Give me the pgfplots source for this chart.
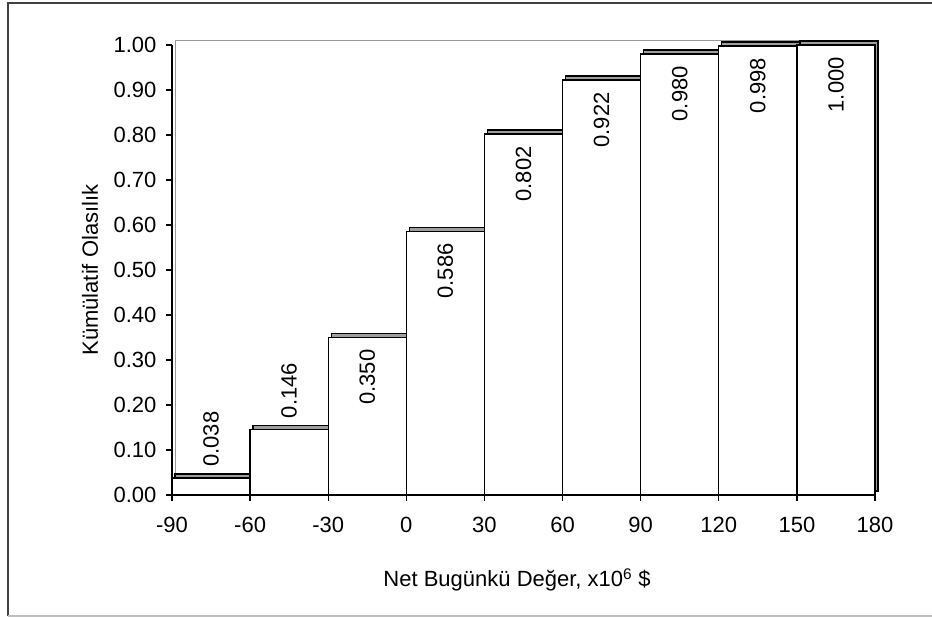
\documentclass[border=0pt]{standalone}
\usepackage{fontspec}
\setmainfont{Liberation Sans}
\usepackage{pgfplots}
\pgfplotsset{compat=1.18}
\definecolor{shade}{gray}{0.62}
\newcommand{\lblfont}{\fontsize{22bp}{26bp}\selectfont}
\begin{document}
\lblfont
\begin{tikzpicture}
\useasboundingbox (0,0) rectangle (932bp,617bp);
\fill[white] (0,0) rectangle (932bp,617bp);
\draw[line width=2.5bp, black!75] (8bp,1bp) -- (8bp,614bp) -- (932bp,614bp);
\draw[line width=1.5bp, black!25] (8bp,1bp) -- (932bp,1bp);
\begin{axis}[
  at={(172bp,122bp)}, anchor=south west,
  scale only axis, width=703bp, height=450bp,
  xmin=-90, xmax=180, ymin=0, ymax=1,
  clip=false,
  axis lines=left, axis line style={-, line width=1.3bp, black},
  xtick={-90,-60,-30,0,30,60,90,120,150,180},
  ytick={0,0.1,0.2,0.3,0.4,0.5,0.6,0.7,0.8,0.9,1.0},
  /pgf/number format/assume math mode=true,
  yticklabel style={xshift=-2bp, /pgf/number format/.cd, fixed, fixed zerofill, precision=2},
  xticklabel style={yshift=-9bp},
  tick label style={font=\lblfont},
  tick style={black, line width=1.3bp},
  major tick length=6bp, tick align=outside,
  xlabel={Net Bugünkü Değer, x10\textsuperscript{6} \$},
  ylabel={Kümülatif Olasılık},
  label style={font=\lblfont},
  xlabel style={at={(axis description cs:0.4908,-0.1889)}, anchor=center},
  ylabel style={at={(axis description cs:-0.1166,0.5)}, anchor=center},
]
% back wall
\draw[black!40, line width=1bp] ([xshift=3bp,yshift=4bp]axis cs:-90,0) -- ([xshift=3bp,yshift=4bp]axis cs:-90,1) -- ([xshift=3bp,yshift=4bp]axis cs:180,1);
% depth (shadow) of bars
\addplot[ybar, bar width=30, bar shift=0pt, fill=shade, draw=black, line width=1.3bp, xshift=3bp, yshift=4bp]
  coordinates {(-75,0.038) (-45,0.146) (-15,0.350) (15,0.586) (45,0.802) (75,0.922) (105,0.980) (135,0.998) (165,1.000)};
% front bars
\addplot[ybar, bar width=30, bar shift=0pt, fill=white, draw=black, line width=1.3bp]
  coordinates {(-75,0.038) (-45,0.146) (-15,0.350) (15,0.586) (45,0.802) (75,0.922) (105,0.980) (135,0.998) (165,1.000)};
% labels above short bars
\addplot[draw=none, mark=none,
  nodes near coords={\pgfmathprintnumber[fixed,fixed zerofill,precision=3]{\pgfplotspointmeta}},
  nodes near coords style={yshift=11bp, rotate=90, anchor=west, inner sep=0pt, font=\lblfont}]
  coordinates {(-75,0.038) (-45,0.146)};
% labels inside bars
\addplot[draw=none, mark=none,
  nodes near coords={\pgfmathprintnumber[fixed,fixed zerofill,precision=3]{\pgfplotspointmeta}},
  nodes near coords style={yshift=-12bp, rotate=90, anchor=east, inner sep=0pt, font=\lblfont}]
  coordinates {(-15,0.350) (15,0.586) (45,0.802) (75,0.922) (105,0.980) (135,0.998) (165,1.000)};
\end{axis}
\end{tikzpicture}
\end{document}
